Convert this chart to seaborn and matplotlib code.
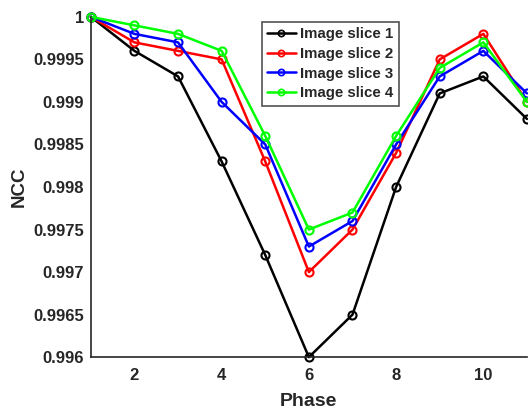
import numpy as np
import pandas as pd
import matplotlib
matplotlib.use("Agg")
import matplotlib.pyplot as plt
import seaborn as sns

phase = [1, 2, 3, 4, 5, 6, 7, 8, 9, 10, 11]
slice1 = [1.0, 0.9996, 0.9993, 0.9983, 0.9972, 0.9960, 0.9965, 0.9980, 0.9991, 0.9993, 0.9988]
slice2 = [1.0, 0.9997, 0.9996, 0.9995, 0.9983, 0.9970, 0.9975, 0.9984, 0.9995, 0.9998, 0.9990]
slice3 = [1.0, 0.9998, 0.9997, 0.9990, 0.9985, 0.9973, 0.9976, 0.9985, 0.9993, 0.9996, 0.9991]
slice4 = [1.0, 0.9999, 0.9998, 0.9996, 0.9986, 0.9975, 0.9977, 0.9986, 0.9994, 0.9997, 0.9990]
names = ["Image slice 1", "Image slice 2", "Image slice 3", "Image slice 4"]
colors = ["#000000", "#ff0000", "#0000ff", "#00ff00"]
xticks = [2, 4, 6, 8, 10]
yticks = [0.996, 0.9965, 0.997, 0.9975, 0.998, 0.9985, 0.999, 0.9995, 1.0]

rows = []
for name, vals in zip(names, [slice1, slice2, slice3, slice4]):
    for p, v in zip(phase, vals):
        rows.append({"Phase": p, "NCC": v, "series": name})
df = pd.DataFrame(rows)

sns.set_style("white")
plt.rcParams['font.family'] = ['Liberation Sans', 'DejaVu Sans']
plt.rcParams['font.weight'] = 'bold'

fig = plt.figure(figsize=(5.28, 4.11), dpi=100)
ax = fig.add_axes([0.172, 0.131, 0.826, 0.828])
sns.lineplot(data=df, x="Phase", y="NCC", hue="series", palette=colors,
             marker="o", markersize=5.8, markerfacecolor="none", markeredgewidth=1.5,
             linewidth=1.8, ax=ax, clip_on=False)
for ln in ax.lines:
    ln.set_markeredgecolor(ln.get_color())
    ln.set_markerfacecolor('none')

ax.set_xlim(1, 11)
ax.set_ylim(0.996, 1.0)
ax.set_xticks(xticks)
ax.set_xticklabels([str(t) for t in xticks], fontsize=12, fontweight='bold', color='#262626')
ax.set_yticks(yticks)
ax.set_yticklabels([f"{t:g}" for t in yticks], fontsize=12, fontweight='bold', color='#262626')
ax.tick_params(direction='in', length=4, width=1.2, colors='#262626', labelcolor='#262626')
ax.tick_params(axis='y', pad=5)
ax.tick_params(axis='x', pad=8)
ax.set_xlabel("Phase", fontsize=14, fontweight='bold', color='#262626', labelpad=7)
ax.set_ylabel("NCC", fontsize=13.5, fontweight='bold', color='#262626', labelpad=4)
for s in ['top', 'right']:
    ax.spines[s].set_visible(False)
for s in ['left', 'bottom']:
    ax.spines[s].set_color('#262626')
    ax.spines[s].set_linewidth(1.2)

leg = ax.legend(loc='upper left', bbox_to_anchor=(0.3925, 0.985), fontsize=10.8,
                frameon=True, fancybox=False, handlelength=1.9, handletextpad=0.3,
                borderpad=0.35, labelspacing=0.38, borderaxespad=0)
leg.get_frame().set_edgecolor('#262626')
leg.get_frame().set_linewidth(1.2)
for t in leg.get_texts():
    t.set_fontweight('bold')
for h in leg.legend_handles:
    h.set_markersize(4.5)
    h.set_markeredgecolor(h.get_color())
    h.set_markerfacecolor('none')
    h.set_markeredgewidth(1.2)

fig.savefig("out.png", dpi=100)
